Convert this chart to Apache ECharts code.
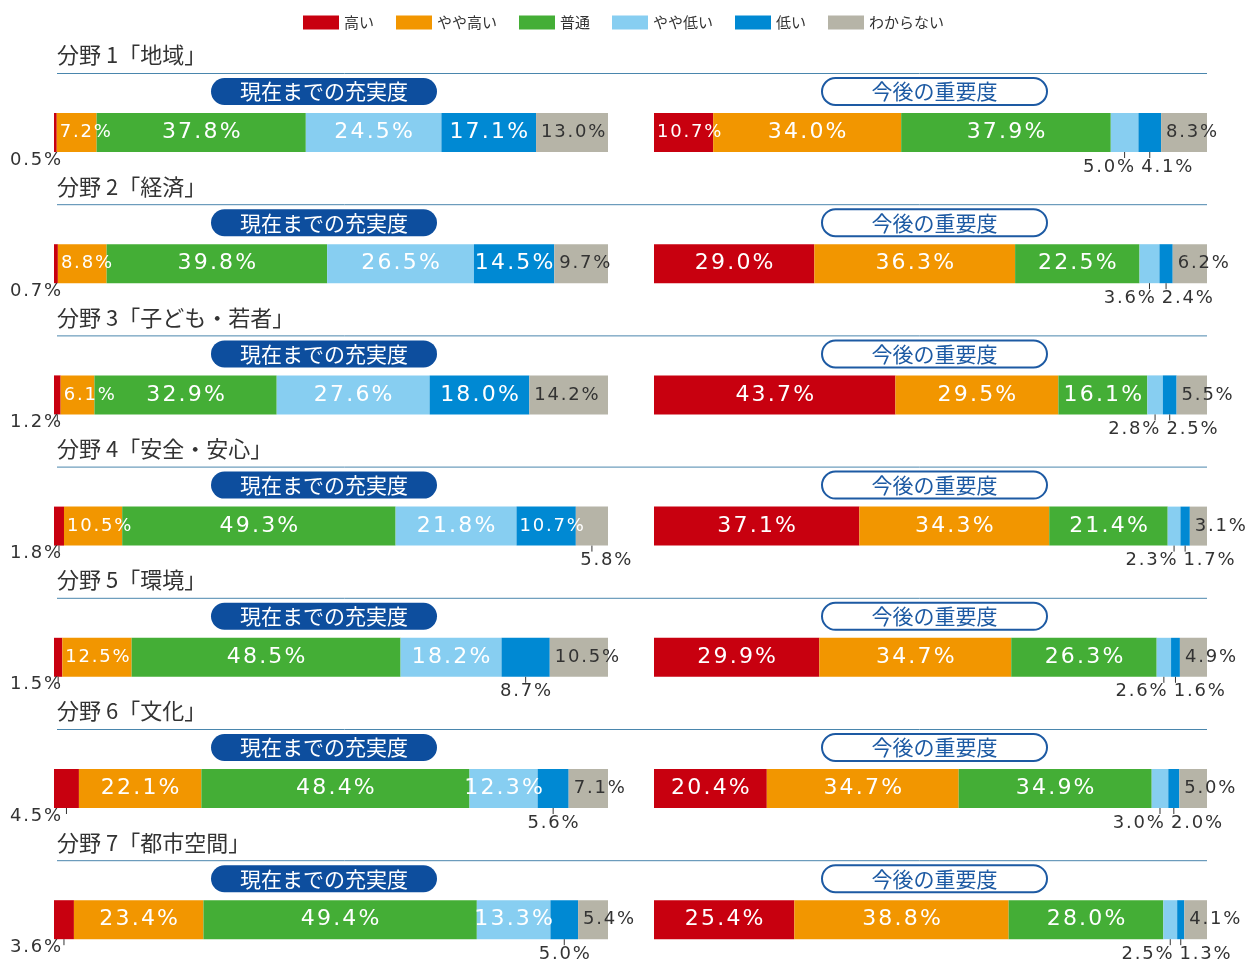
<!DOCTYPE html>
<html>
<head>
<meta charset="utf-8">
<script src="https://cdn.jsdelivr.net/npm/echarts@6/dist/echarts.min.js"></script>
<style>
  html, body { margin: 0; background: #fff; }
  #main { width: 1247px; height: 961px; }
</style>
</head>
<body>
<div id="main"></div>
<script>
// 回答区分
var levels = ['高い', 'やや高い', '普通', 'やや低い', '低い', 'わからない'];
var colors = ['#c8000f', '#f29600', '#44ae36', '#87cef1', '#0089d3', '#b6b4a7'];

var fields = ['分野 1「地域」', '分野 2「経済」', '分野 3「子ども・若者」', '分野 4「安全・安心」',
  '分野 5「環境」', '分野 6「文化」', '分野 7「都市空間」'];
var sides = ['現在までの充実度', '今後の重要度'];

// 現在までの充実度 (%)
var current = [
  [0.5, 7.2, 37.8, 24.5, 17.1, 13.0],
  [0.7, 8.8, 39.8, 26.5, 14.5, 9.7],
  [1.2, 6.1, 32.9, 27.6, 18.0, 14.2],
  [1.8, 10.5, 49.3, 21.8, 10.7, 5.8],
  [1.5, 12.5, 48.5, 18.2, 8.7, 10.5],
  [4.5, 22.1, 48.4, 12.3, 5.6, 7.1],
  [3.6, 23.4, 49.4, 13.3, 5.0, 5.4]
];
// 今後の重要度 (%)
var future = [
  [10.7, 34.0, 37.9, 5.0, 4.1, 8.3],
  [29.0, 36.3, 22.5, 3.6, 2.4, 6.2],
  [43.7, 29.5, 16.1, 2.8, 2.5, 5.5],
  [37.1, 34.3, 21.4, 2.3, 1.7, 3.1],
  [29.9, 34.7, 26.3, 2.6, 1.6, 4.9],
  [20.4, 34.7, 34.9, 3.0, 2.0, 5.0],
  [25.4, 38.8, 28.0, 2.5, 1.3, 4.1]
];

var JP = '"Noto Sans CJK JP", sans-serif';
var NUM = '"DejaVu Sans", sans-serif';
var BAR_H = 39;
var STEP = 131.2;
var BIG = 22, SMALL = 18;
var BELOW_Y = 54;

function pct(v) {
  // 文字間をほんの少し空ける
  return (v.toFixed(1) + '%').split('').join('\u200A');
}

function segLabel(side, row, k, ppu) {
  var v = row[k];
  var lab = { show: true, formatter: pct(v), fontFamily: NUM, fontSize: SMALL, color: '#fff' };
  function big() { lab.position = 'inside'; lab.fontSize = BIG; return lab; }
  function inLeft() { lab.position = 'insideLeft'; lab.distance = 3; return lab; }
  function below(dx, align) {
    lab.position = ['50%', BELOW_Y]; lab.offset = [dx, 0];
    lab.align = align; lab.verticalAlign = 'middle'; lab.color = '#333';
    return lab;
  }
  var half = (row[3] + row[4]) / 4 * ppu;
  if (k === 0) {
    if (side === 0) {
      lab.position = [-44, 47]; lab.align = 'left'; lab.verticalAlign = 'middle'; lab.color = '#333';
      return lab;
    }
    return v >= 14 ? big() : inLeft();
  }
  if (k === 1) return v >= 14 ? big() : inLeft();
  if (k === 2) return big();
  if (k === 3) return v >= 10 ? big() : below(half - 3, 'right');
  if (k === 4) {
    if (v >= 12) return big();
    if (v >= 10) return inLeft();
    return row[3] < 10 ? below(-half + 4, 'left') : below(0, 'center');
  }
  // わからない
  lab.color = '#333';
  if (row[4] >= 10 && row[4] < 12) return below(14, 'center');
  lab.position = 'insideLeft'; lab.distance = 5;
  return lab;
}

var grids = [], xAxes = [], yAxes = [], series = [], graphics = [];

[current, future].forEach(function (rows, side) {
  rows.forEach(function (row, i) {
    var gi = grids.length;
    var width = side ? 553 : 554;
    var total = row.reduce(function (a, b) { return a + b; }, 0);
    var ppu = width / total;
    grids.push({ left: side ? 654 : 54, width: width, top: 113 + i * STEP, height: BAR_H });
    xAxes.push({ type: 'value', gridIndex: gi, min: 0, max: total, show: false });
    yAxes.push({ type: 'category', gridIndex: gi, data: [fields[i]], show: false });
    var ticks = [];
    var cum = 0;
    row.forEach(function (v, k) {
      series.push({
        name: levels[k], type: 'bar', xAxisIndex: gi, yAxisIndex: gi, stack: 's' + gi,
        barWidth: BAR_H, data: [v], itemStyle: { color: colors[k] },
        label: segLabel(side, row, k, ppu), emphasis: { disabled: true }
      });
      var lab = series[series.length - 1].label;
      if (Array.isArray(lab.position) && !(side === 0 && k === 0 && v < 1)) ticks.push([cum + v / 2, 0]);
      cum += v;
    });
    if (ticks.length) {
      series.push({
        type: 'custom', xAxisIndex: gi, yAxisIndex: gi, silent: true, z: 5,
        encode: { x: 0, y: 1 }, data: ticks,
        renderItem: function (params, api) {
          var p = api.coord([api.value(0), 0]);
          var y = p[1] + BAR_H / 2;
          return { type: 'line', shape: { x1: p[0], y1: y, x2: p[0], y2: y + 6 }, style: { stroke: '#333', lineWidth: 1 } };
        }
      });
    }
  });
});

// 見出し・区切り線・ラベル枠
fields.forEach(function (f, i) {
  var dy = i * STEP;
  graphics.push({ type: 'text', left: 57, top: 44 + dy, style: { text: f, font: '22px ' + JP, fill: '#333' } });
  graphics.push({ type: 'line', shape: { x1: 57, y1: 73.5 + dy, x2: 1207, y2: 73.5 + dy }, style: { stroke: '#4a86ad', lineWidth: 1 } });
  graphics.push({ type: 'rect', shape: { x: 211, y: 78 + dy, width: 226, height: 27, r: 13.5 }, style: { fill: '#0d4e9e' } });
  graphics.push({ type: 'text', x: 324, y: 91.5 + dy, style: { text: sides[0], font: '21px ' + JP, fill: '#fff', textAlign: 'center', textVerticalAlign: 'middle' } });
  graphics.push({ type: 'rect', shape: { x: 822, y: 78 + dy, width: 225, height: 27, r: 13.5 }, style: { fill: '#fff', stroke: '#1d5aa3', lineWidth: 2 } });
  graphics.push({ type: 'text', x: 934.5, y: 91.5 + dy, style: { text: sides[1], font: '21px ' + JP, fill: '#1d5aa3', textAlign: 'center', textVerticalAlign: 'middle' } });
});

var chart = echarts.init(document.getElementById('main'));
chart.setOption({
  animation: false,
  color: colors,
  legend: {
    data: levels, left: 'center', top: 10, icon: 'rect', itemWidth: 36, itemHeight: 14, itemGap: 22,
    textStyle: { fontFamily: JP, fontSize: 15, color: '#333' }
  },
  grid: grids,
  xAxis: xAxes,
  yAxis: yAxes,
  series: series,
  graphic: graphics
});
</script>
</body>
</html>
